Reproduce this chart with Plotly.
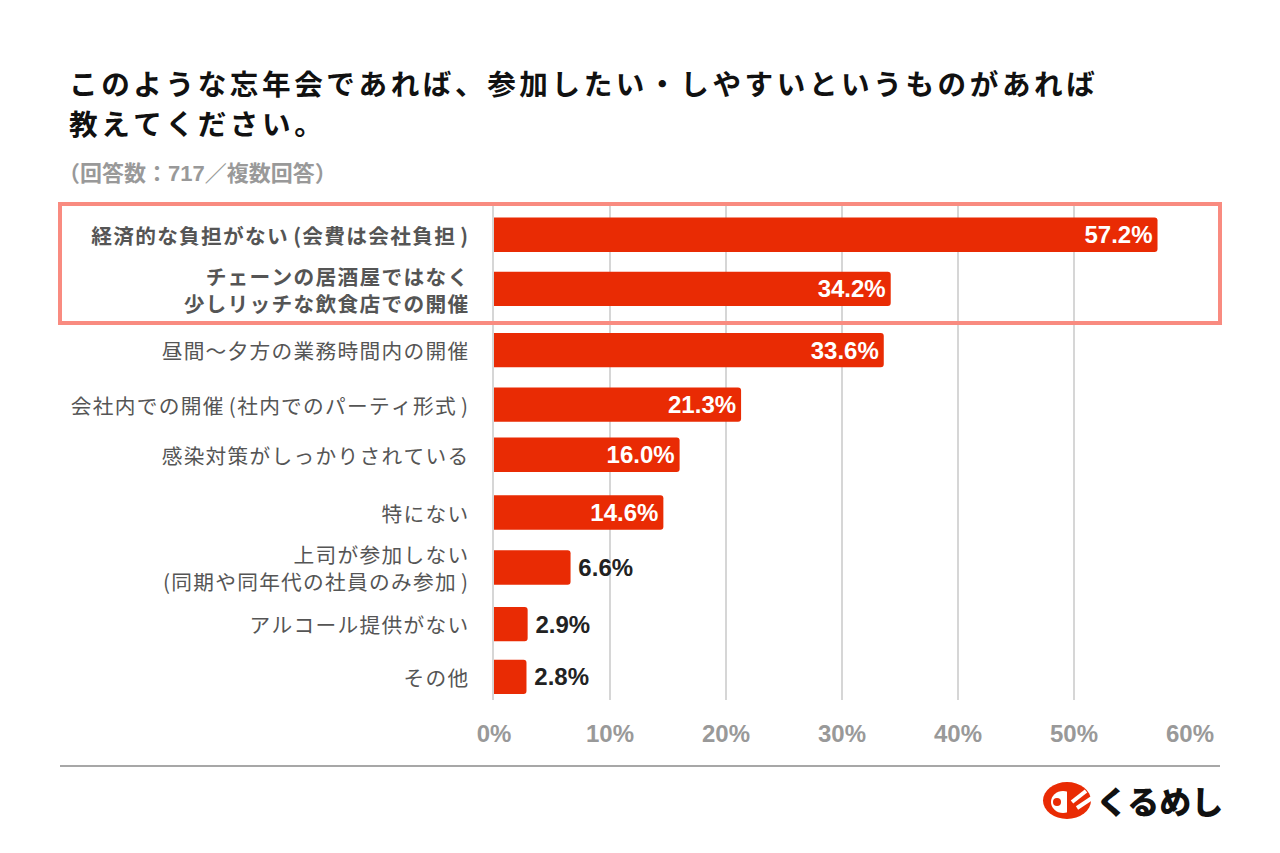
import plotly.graph_objects as go

FONT = "Noto Sans CJK JP"
NUM_FONT = "Liberation Sans, Noto Sans CJK JP"
HAIR = "\u200a"

categories = [
    "経済的な負担がない(会費は会社負担)",
    "チェーンの居酒屋ではなく<br>少しリッチな飲食店での開催",
    "昼間〜夕方の業務時間内の開催",
    "会社内での開催(社内でのパーティ形式)",
    "感染対策がしっかりされている",
    "特にない",
    "上司が参加しない<br>(同期や同年代の社員のみ参加)",
    "アルコール提供がない",
    "その他",
]
values = [57.2, 34.2, 33.6, 21.3, 16.0, 14.6, 6.6, 2.9, 2.8]
tick_vals = [0, 10, 20, 30, 40, 50, 60]
title_lines = ["このような忘年会であれば、参加したい・しやすいというものがあれば", "教えてください。"]
title_y = [83, 122]
subtitle = "（回答数：717／複数回答）"
logo_text = "くるめし"

# rows are not evenly spaced in the original
row_pos = [0, 0.984, 2.098, 3.09, 4.0, 5.05, 6.05, 7.08, 8.04]
highlighted = 2


def spaced(s, n=1):
    # no letter-spacing in plotly text, so hair spaces between the characters
    out = "<br>".join((HAIR * n).join(line) for line in s.split("<br>"))
    return out.replace("(", "\u2009(").replace(")", "\u2009)")


tick_text = []
for i, c in enumerate(categories):
    if i < highlighted:
        tick_text.append("<b>" + spaced(c) + "</b>")
    else:
        tick_text.append(spaced(c))

text_pos = ["inside" if v > 10 else "outside" for v in values]
text_col = ["white" if v > 10 else "#222222" for v in values]
labels = []
for v in values:
    if v > 10:
        labels.append("<b>%.1f%%%s</b>" % (v, HAIR))
    else:
        labels.append("<b>\u2009%.1f%%</b>" % v)

fig = go.Figure()
fig.add_trace(go.Bar(
    x=values, y=row_pos, orientation="h",
    marker=dict(color="#E92B04", line=dict(width=0)),
    width=0.625,
    text=labels, textposition=text_pos, insidetextanchor="end",
    textfont=dict(family=NUM_FONT, size=24, color=text_col),
    constraintext="none", cliponaxis=False,
))

# the page has an 8px body margin, coordinates below are picture pixels
PAGE = 8
W, H = 1280, 853
L, R, T, B = 494, 1190, 205, 700


def px_x(p):
    return (p - L) / (R - L)


def px_y(p):
    return (B - p) / (B - T)


def paper_shape(kind, x0, y0, x1, y1, **kw):
    fig.add_shape(type=kind, xref="paper", yref="paper",
                  x0=px_x(x0), x1=px_x(x1), y0=px_y(y0), y1=px_y(y1), **kw)


# highlight box
paper_shape("rect", 60, 323, 1220, 204, line=dict(color="#F98B80", width=4), layer="above")
# footer rule
paper_shape("line", 60, 766, 1220, 766, line=dict(color="#8A8A8A", width=1.5))
# logo mark
RED = "#E92B04"
paper_shape("circle", 1043, 819, 1091, 782, fillcolor=RED, line=dict(width=0))
paper_shape("circle", 1051, 813, 1075, 791, fillcolor="white", line=dict(width=0))
paper_shape("rect", 1067, 813, 1076, 790, fillcolor=RED, line=dict(width=0))
paper_shape("circle", 1053, 806, 1061, 798, fillcolor=RED, line=dict(width=0))
paper_shape("line", 1072, 802, 1086, 791, line=dict(color="white", width=4))
paper_shape("line", 1077, 808, 1092, 798, line=dict(color="white", width=4))

for line, y in zip(title_lines, title_y):
    fig.add_annotation(text="<b>" + spaced(line, 2) + "</b>",
                       xref="paper", yref="paper", x=px_x(67), y=px_y(y),
                       xanchor="left", yanchor="middle", align="left", showarrow=False,
                       font=dict(family=FONT, size=28.6, color="#111111"))
fig.add_annotation(text="<b>" + subtitle + "</b>",
                   xref="paper", yref="paper", x=px_x(56), y=px_y(173),
                   xanchor="left", yanchor="middle", showarrow=False,
                   font=dict(family=NUM_FONT, size=22, color="#999999"))
fig.add_annotation(text=logo_text,
                   xref="paper", yref="paper", x=px_x(1225), y=px_y(800),
                   xanchor="right", yanchor="middle", showarrow=False,
                   font=dict(family=FONT, size=32, color="#111111", weight=900))

fig.update_xaxes(range=[0, 60], tickvals=tick_vals, ticktext=["<b>%d%%</b>" % t for t in tick_vals],
                 showgrid=True, gridcolor="#D6D6D6", gridwidth=1.5, zeroline=False,
                 tickfont=dict(family=NUM_FONT, size=24, color="#999999"), ticklen=0, ticks="outside",
                 ticklabelstandoff=12)
fig.update_yaxes(range=[8.46, -0.54], tickvals=row_pos, ticktext=tick_text, showgrid=False,
                 zeroline=False, showline=True, linecolor="#D6D6D6", linewidth=1.5,
                 tickfont=dict(family=FONT, size=20.7, color="#555555"), ticks="",
                 ticklabelstandoff=20, ticklabelshift=-2)
fig.update_layout(width=W - PAGE, height=H - PAGE,
                  margin=dict(l=L - PAGE, r=W - R, t=T - PAGE, b=H - B),
                  plot_bgcolor="white", paper_bgcolor="white", showlegend=False,
                  barcornerradius=3)
fig.write_html("out.html")
